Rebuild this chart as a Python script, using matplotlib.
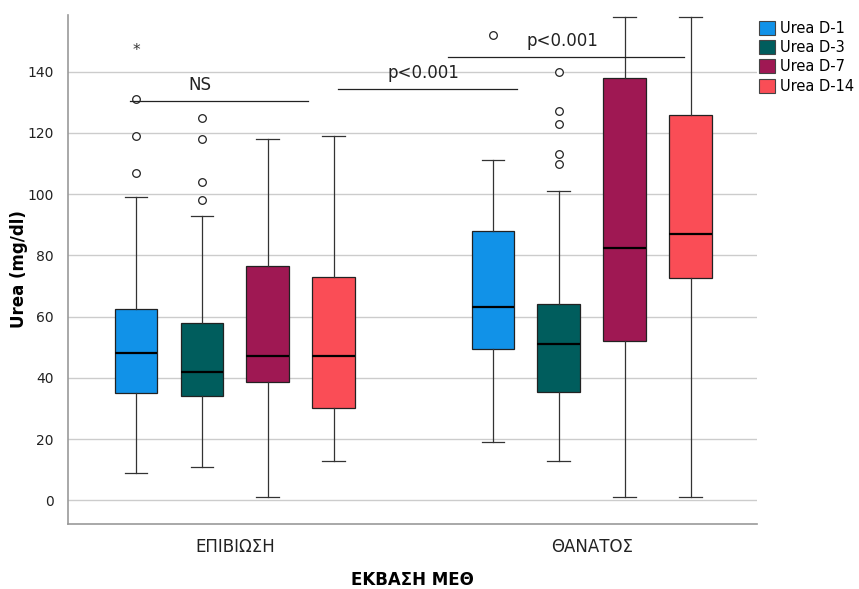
import numpy as np
import matplotlib
matplotlib.use('Agg')
import matplotlib.pyplot as plt
from matplotlib.patches import Patch

plt.rcParams['font.family'] = ['DejaVu Sans']

# groups and series
groups = ['ΕΠΙΒΙΩΣΗ', 'ΘΑΝΑΤΟΣ']
series = ['Urea D-1', 'Urea D-3', 'Urea D-7', 'Urea D-14']
colors = ['#1192E8', '#005D5D', '#9F1853', '#FA4D56']

# box stats per group, in series order: [whislo, q1, med, q3, whishi]
surv_stats = [
    [9, 35, 48, 62.5, 99],
    [11, 34, 42, 58, 93],
    [1, 38.5, 47, 76.5, 118],
    [13, 30, 47, 73, 119],
]
death_stats = [
    [19, 49.5, 63, 88, 111],
    [13, 35.5, 51, 64, 101],
    [1, 52, 82.5, 138, 158],
    [1, 72.5, 87, 126, 158],
]
surv_fliers = [[107, 119, 131], [98, 104, 118, 125], [], []]
death_fliers = [[152], [110, 113, 123, 127, 140], [], []]
surv_extremes = [[148], [], [], []]

# significance brackets: (x0, x1, y, text x, label)
brackets = [
    (-0.294, 0.204, 130.3, -0.098, 'NS'),
    (0.289, 0.79, 134.4, 0.527, 'p<0.001'),
    (0.597, 1.258, 144.8, 0.918, 'p<0.001'),
]

fig = plt.figure(figsize=(8.59, 5.89), dpi=100)
ax = fig.add_axes([0.079, 0.110, 0.802, 0.865])

offsets = [-0.277, -0.0924, 0.0924, 0.277]
width = 0.12

all_stats = [surv_stats, death_stats]
all_fliers = [surv_fliers, death_fliers]
for gi in range(len(groups)):
    for si in range(len(series)):
        lo, q1, med, q3, hi = all_stats[gi][si]
        st = dict(whislo=lo, q1=q1, med=med, q3=q3, whishi=hi,
                  fliers=all_fliers[gi][si])
        ax.bxp([st], positions=[gi + offsets[si]], widths=width,
               capwidths=0.064, patch_artist=True, showfliers=True,
               boxprops=dict(facecolor=colors[si], edgecolor='#222222', linewidth=0.9),
               medianprops=dict(color='black', linewidth=1.6),
               whiskerprops=dict(color='#333333', linewidth=0.9),
               capprops=dict(color='#333333', linewidth=0.9),
               flierprops=dict(marker='o', markersize=5.5, markerfacecolor='white',
                               markeredgecolor='#222222', markeredgewidth=0.9),
               zorder=3)

for si, vals in enumerate(surv_extremes):
    for v in vals:
        ax.text(0 + offsets[si], v - 1, '*', ha='center', va='center',
                fontsize=11, color='#333333', zorder=4)

for x0, x1, y, tx, lab in brackets:
    ax.plot([x0, x1], [y, y], color='#222222', linewidth=0.9, zorder=4)
    ax.text(tx, y + 2.3, lab, ha='center', va='bottom',
            fontsize=12, color='#222222', zorder=5)

ax.set_xlim(-0.468, 1.462)
ax.set_ylim(-7.8, 158.6)
ax.set_yticks(np.arange(0, 141, 20))
ax.set_xticks(range(len(groups)))
ax.set_xticklabels(groups, fontsize=12)
ax.tick_params(axis='y', length=0, labelsize=10, pad=10, colors='#222222')
ax.tick_params(axis='x', length=0, pad=10, colors='#222222')
ax.yaxis.grid(True, color='#cccccc', linewidth=1.0, zorder=0)
ax.set_axisbelow(True)
for s in ['top', 'right']:
    ax.spines[s].set_visible(False)
for s in ['left', 'bottom']:
    ax.spines[s].set_color('#999999')
    ax.spines[s].set_linewidth(1.2)

ax.set_ylabel('Urea (mg/dl)', fontsize=12, fontweight='bold', labelpad=0)
ax.set_xlabel('ΕΚΒΑΣΗ ΜΕΘ', fontsize=12, fontweight='bold', labelpad=11)

handles = [Patch(facecolor=c, edgecolor='#444444', linewidth=0.8) for c in colors]
ax.legend(handles, series, loc='upper left', bbox_to_anchor=(0.995, 1.0),
          frameon=False, fontsize=10.5, handlelength=1.1, handleheight=1.1,
          handletextpad=0.3, labelspacing=0.3, borderaxespad=0)

fig.savefig('out.png', dpi=100)
